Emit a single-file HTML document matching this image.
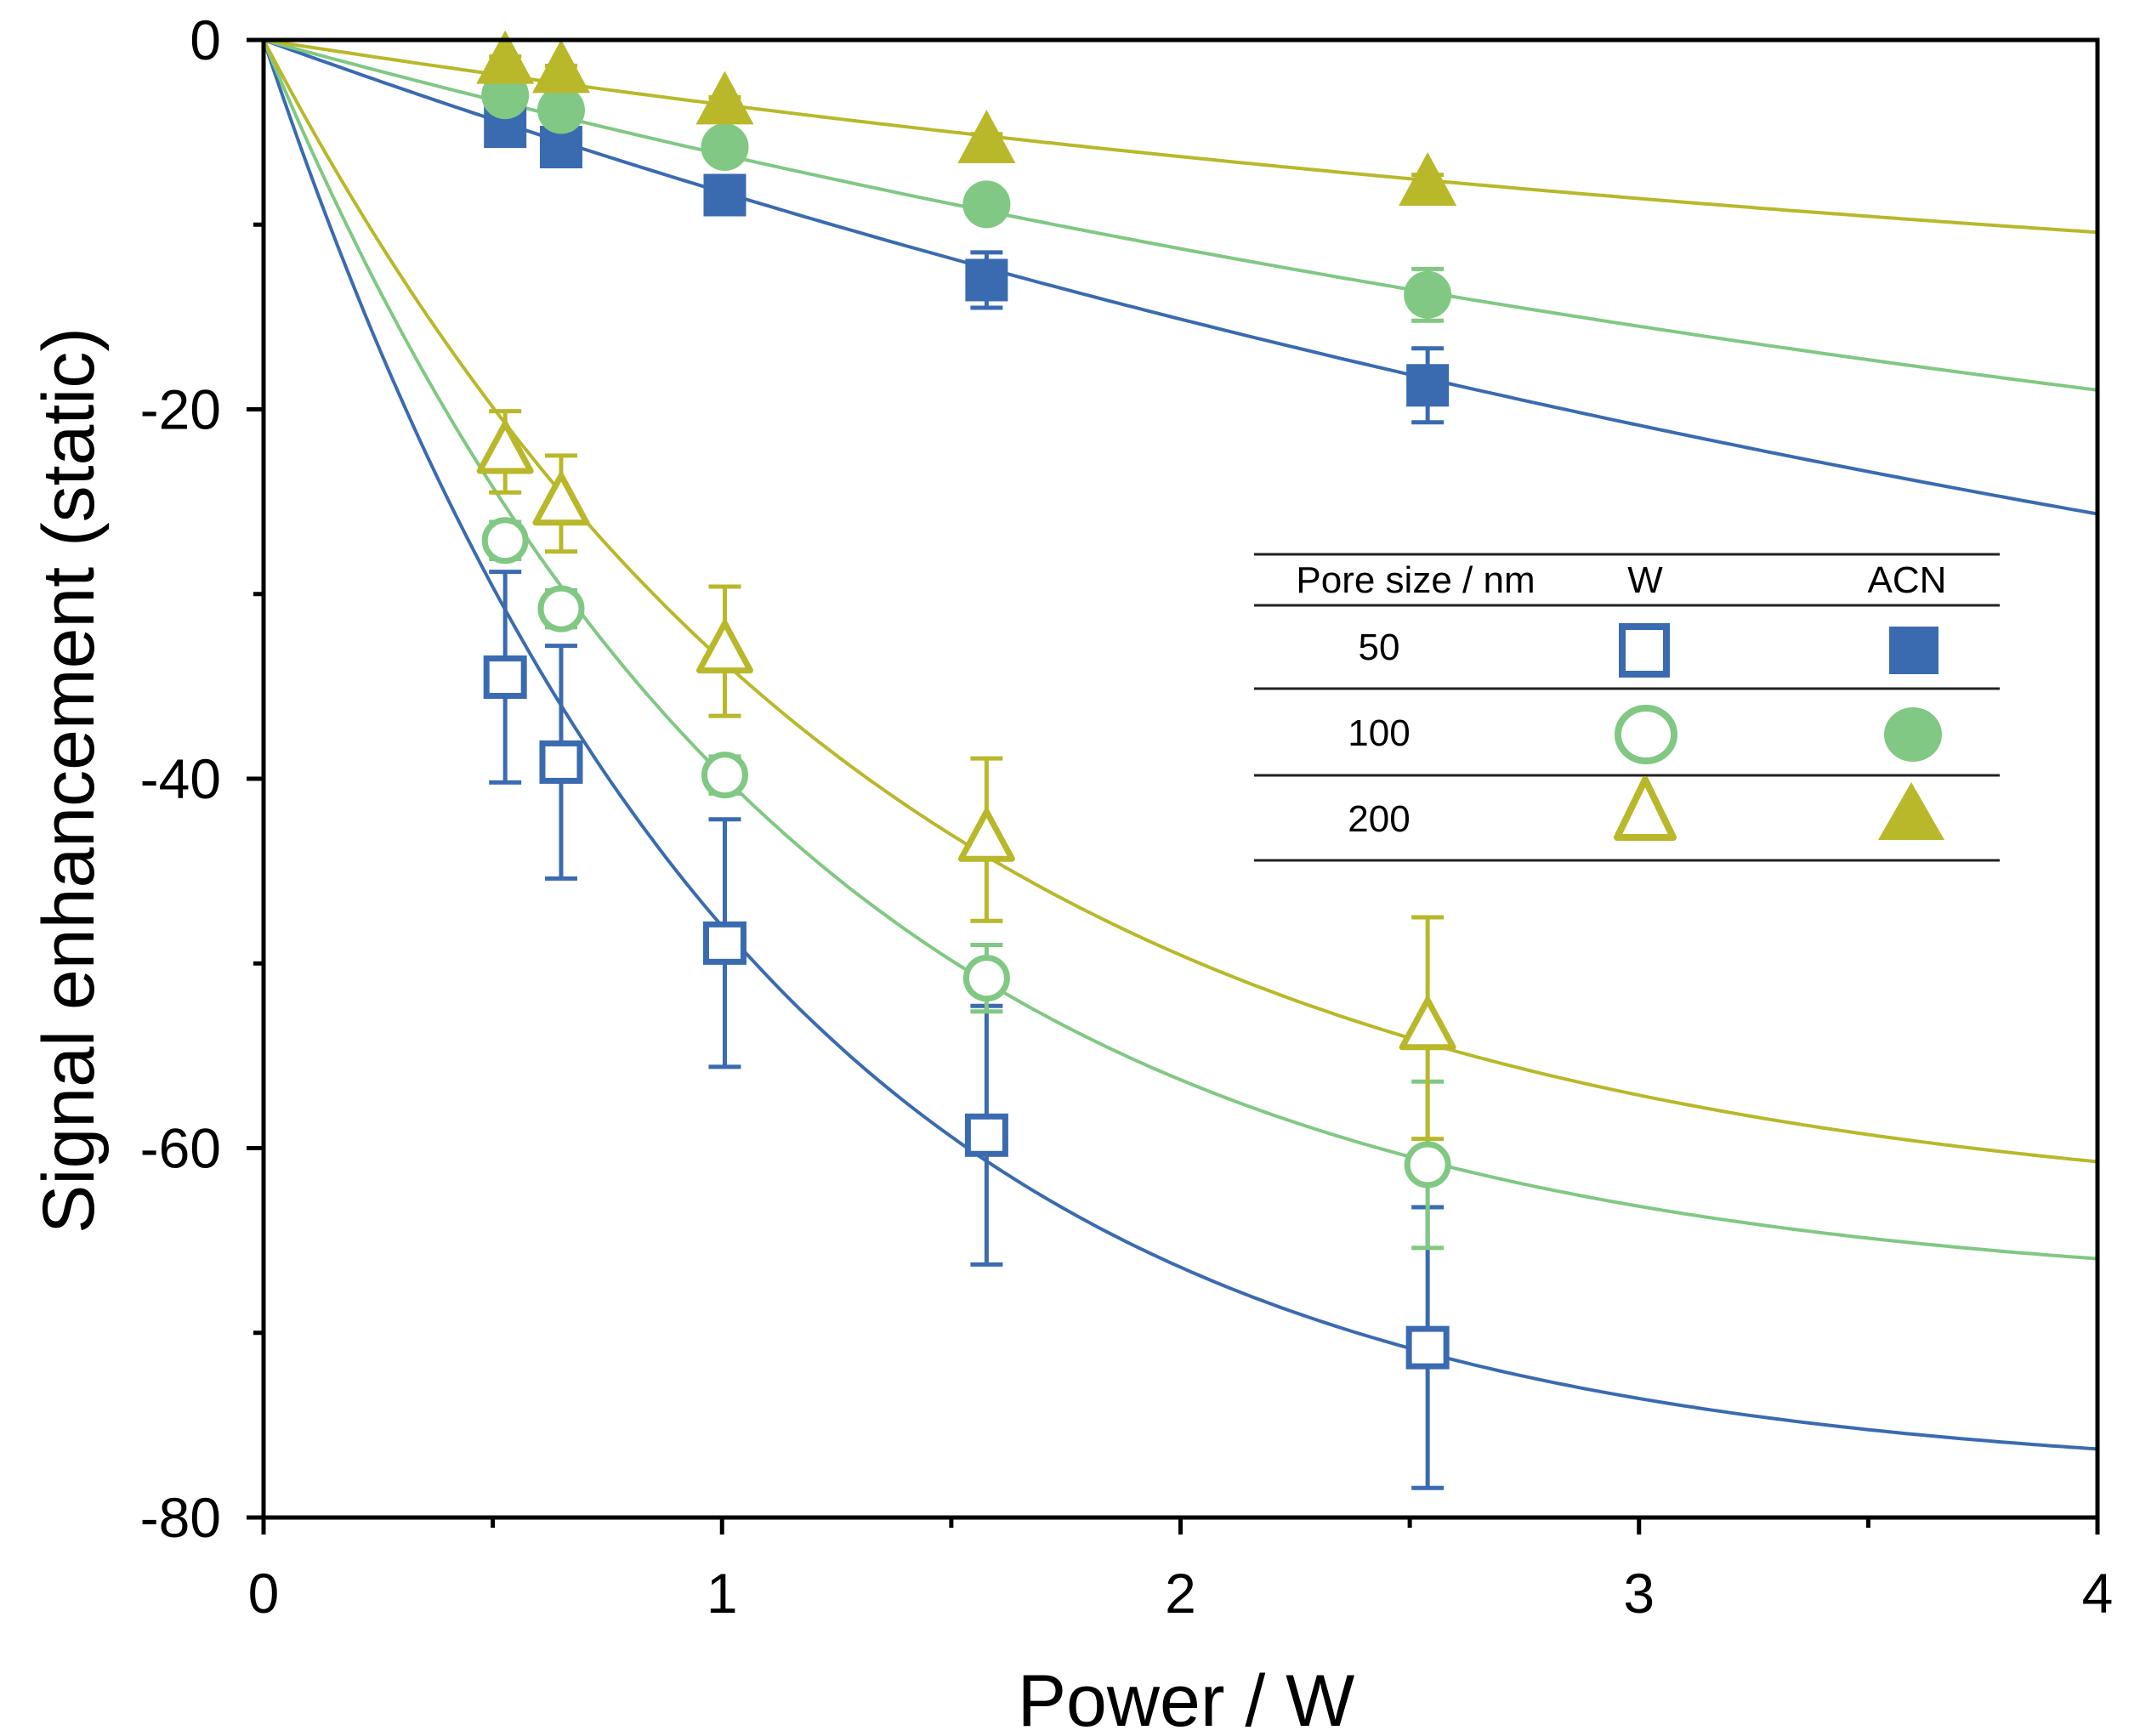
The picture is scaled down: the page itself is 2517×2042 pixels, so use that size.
<!DOCTYPE html>
<html><head><meta charset="utf-8"><style>
html,body{margin:0;padding:0;background:#fff}
svg{display:block;font-family:"Liberation Sans",Arial,sans-serif}
</style></head><body>
<svg id="chart" width="2517" height="2042" viewBox="0 0 2517 2042" xmlns="http://www.w3.org/2000/svg">
<g id="plot"></g>
<g id="axes"></g>
<g id="legend">
  <line x1="1475" y1="652" x2="2352" y2="652" stroke="#222" stroke-width="3"/>
  <line x1="1475" y1="712" x2="2352" y2="712" stroke="#222" stroke-width="3"/>
  <line x1="1475" y1="810" x2="2352" y2="810" stroke="#222" stroke-width="3"/>
  <line x1="1475" y1="912" x2="2352" y2="912" stroke="#222" stroke-width="3"/>
  <line x1="1475" y1="1012" x2="2352" y2="1012" stroke="#222" stroke-width="3"/>
  <text x="1665" y="697" font-size="44" text-anchor="middle">Pore size /  nm</text>
  <text x="1935" y="697" font-size="44" text-anchor="middle">W</text>
  <text x="2243" y="697" font-size="44" text-anchor="middle">ACN</text>
  <text x="1622" y="776" font-size="44" text-anchor="middle">50</text>
  <text x="1622" y="877" font-size="44" text-anchor="middle">100</text>
  <text x="1622" y="978" font-size="44" text-anchor="middle">200</text>
  <rect x="1908" y="737" width="52" height="56" fill="#fff" stroke="#3a6bb0" stroke-width="8"/>
  <rect x="2222" y="737" width="58" height="56" fill="#3a6bb0"/>
  <ellipse cx="1936" cy="864" rx="33" ry="31" fill="#fff" stroke="#80c883" stroke-width="8"/>
  <ellipse cx="2250" cy="864" rx="34" ry="32" fill="#80c883"/>
  <polygon points="1935,917 1902,985 1968,985" fill="#fff" stroke="#b8b82a" stroke-width="8" stroke-linejoin="round"/>
  <polygon points="2248,920 2209,988 2287,988" fill="#b8b82a"/>
</g>
</svg>
<script>
const xTicks=[0,1,2,3,4];
const xMinor=[0.5,1.5,2.5,3.5];
const yTicks=[0,-20,-40,-60,-80];
const yMinor=[-10,-30,-50,-70];
const powers=[0.527,0.649,1.006,1.577,2.539];
const w50=[-34.5,-39.1,-48.9,-59.3,-70.8];
const w50Err=[5.7,6.3,6.7,7.0,7.6];
const w100=[-27.1,-30.8,-39.8,-50.8,-60.9];
const w100Err=[1.0,1.0,1.0,1.8,4.5];
const w200=[-22.3,-25.1,-33.1,-43.3,-53.5];
const w200Err=[2.2,2.6,3.5,4.4,6.0];
const acn50=[-4.7,-5.8,-8.4,-13.0,-18.7];
const acn50Err=[0.5,0.5,0.8,1.5,2.0];
const acn100=[-3.0,-3.8,-5.8,-8.9,-13.8];
const acn100Err=[0.4,0.4,0.5,0.7,1.4];
const acn200=[-1.2,-1.7,-3.4,-5.5,-7.8];
const acn200Err=[0.3,0.3,0.3,0.4,0.5];
// fit parameters y = A*(1-exp(-B*x))
const fitA=[-78,-68,-64,-50,-35,-18];
const fitB=[0.955,0.88,0.744,0.18,0.195,0.216];

const L=310,R=2467,T=47,B=1785;
const xs=v=>L+(v-0)/(4-0)*(R-L);
const ys=v=>T+(0-v)/(80)*(B-T);
const NS='http://www.w3.org/2000/svg';
const plot=document.getElementById('plot'),axes=document.getElementById('axes');
function mk(tag,attrs,parent){const e=document.createElementNS(NS,tag);for(const k in attrs)e.setAttribute(k,attrs[k]);parent.appendChild(e);return e;}
const BLUE='#3a6bb0',GREEN='#80c883',OLIVE='#b8b82a';
const series=[
 {name:'w-50',vals:w50,err:w50Err,c:BLUE,shape:'sq',fill:false,fit:0},
 {name:'w-100',vals:w100,err:w100Err,c:GREEN,shape:'ci',fill:false,fit:1},
 {name:'w-200',vals:w200,err:w200Err,c:OLIVE,shape:'tr',fill:false,fit:2},
 {name:'acn-50',vals:acn50,err:acn50Err,c:BLUE,shape:'sq',fill:true,fit:3},
 {name:'acn-100',vals:acn100,err:acn100Err,c:GREEN,shape:'ci',fill:true,fit:4},
 {name:'acn-200',vals:acn200,err:acn200Err,c:OLIVE,shape:'tr',fill:true,fit:5}
];
series.forEach(s=>{
 let d='';
 for(let i=0;i<=200;i++){const x=4*i/200;const y=fitA[s.fit]*(1-Math.exp(-fitB[s.fit]*x));d+=(i?'L':'M')+xs(x).toFixed(1)+','+ys(y).toFixed(1);}
 const p=mk('path',{d:d,fill:'none',stroke:s.c,'stroke-width':4},plot);
 
 
});
series.forEach(s=>{
 const g=mk('g',{},plot);
 
 
 powers.forEach((px,i)=>{
  const cx=xs(px),cy=ys(s.vals[i]),y1=ys(s.vals[i]+s.err[i]),y2=ys(s.vals[i]-s.err[i]);
  const eb=mk('path',{d:`M${cx},${y1}L${cx},${y2}M${cx-19},${y1}L${cx+19},${y1}M${cx-19},${y2}L${cx+19},${y2}`,stroke:s.c,'stroke-width':5,fill:'none'},g);
  
  
  let m;
  const f=s.fill?s.c:'#fff',sw=s.fill?0:7;
  if(s.shape==='sq'){const h=s.fill?25:22;m=mk('rect',{x:cx-h,y:cy-h,width:2*h,height:2*h,fill:f,stroke:s.c,'stroke-width':sw},g);}
  else if(s.shape==='ci'){m=mk('circle',{cx:cx,cy:cy,r:s.fill?28:24,fill:f,stroke:s.c,'stroke-width':sw},g);}
  else {const h=s.fill?34:30;m=mk('polygon',{points:`${cx},${cy-h*1.1} ${cx-h},${cy+h*0.75} ${cx+h},${cy+h*0.75}`,fill:f,stroke:s.c,'stroke-width':sw,'stroke-linejoin':'round'},g);}
  
  
 });
});
const fr=mk('rect',{x:L,y:T,width:R-L,height:B-T,fill:'none',stroke:'#000','stroke-width':5},axes);


xTicks.forEach(v=>{
 const t=mk('line',{x1:xs(v),y1:B,x2:xs(v),y2:B+20,stroke:'#000','stroke-width':5},axes);
 
 
 const lb=mk('text',{x:xs(v),y:B+112,'font-size':66,'text-anchor':'middle'},axes);
 lb.textContent=v;
 
 
});
xMinor.forEach(v=>{
 const t=mk('line',{x1:xs(v),y1:B,x2:xs(v),y2:B+12,stroke:'#000','stroke-width':5},axes);
 
 
});
yTicks.forEach(v=>{
 const t=mk('line',{x1:L-20,y1:ys(v),x2:L,y2:ys(v),stroke:'#000','stroke-width':5},axes);
 
 
 const lb=mk('text',{x:L-50,y:ys(v)+23,'font-size':66,'text-anchor':'end'},axes);
 lb.textContent=v;
 
 
});
yMinor.forEach(v=>{
 const t=mk('line',{x1:L-12,y1:ys(v),x2:L,y2:ys(v),stroke:'#000','stroke-width':5},axes);
 
 
});
const xt=mk('text',{x:1395,y:2030,'font-size':86,'text-anchor':'middle'},axes);
xt.textContent='Power / W';


const yt=mk('text',{x:0,y:0,'font-size':86,'text-anchor':'middle',transform:'translate(110,918) rotate(-90)'},axes);
yt.textContent='Signal enhancement (static)';


</script>
</body></html>
